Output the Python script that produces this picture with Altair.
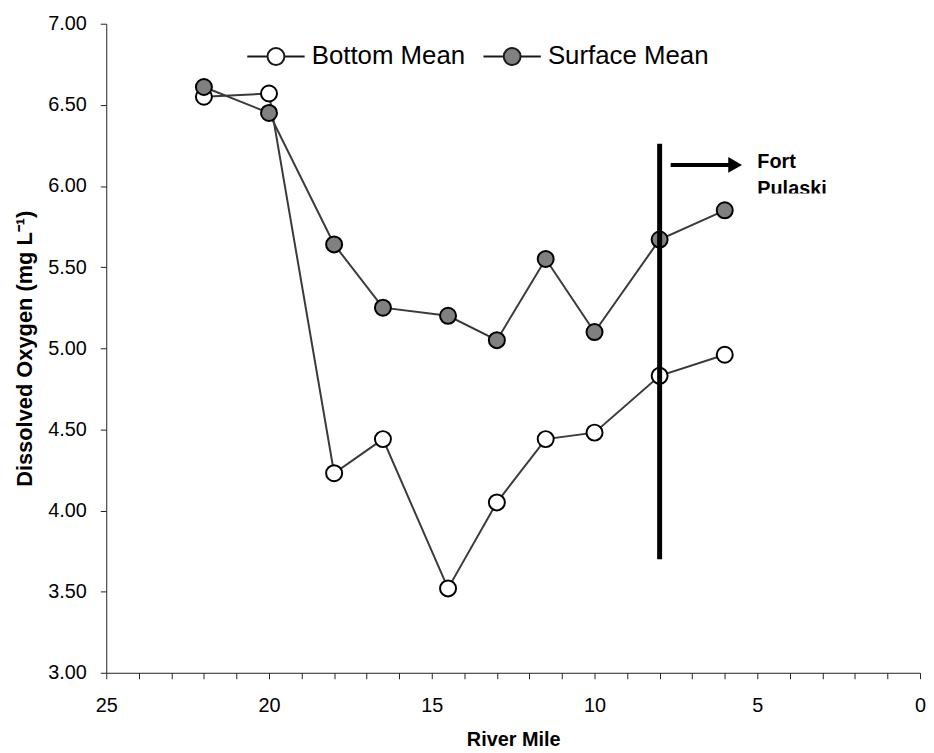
import altair as alt
import pandas as pd

# ---- data ----
river_mile = [22, 20, 18, 16.5, 14.5, 13, 11.5, 10, 8, 6]
bottom_mean = [6.55, 6.57, 4.23, 4.44, 3.52, 4.05, 4.44, 4.48, 4.83, 4.96]
surface_mean = [6.61, 6.45, 5.64, 5.25, 5.20, 5.05, 5.55, 5.10, 5.67, 5.85]
series_names = ["Bottom Mean", "Surface Mean"]
series_fills = ["#ffffff", "#808080"]

x_tick_values = list(range(0, 26))
y_tick_values = [3.0, 3.5, 4.0, 4.5, 5.0, 5.5, 6.0, 6.5, 7.0]

# Fort Pulaski marker line and annotation (data coordinates)
marker_mile = [8]
marker_low = [3.70]
marker_high = [6.26]
arrow_start = [7.66]
arrow_end = [5.68]
arrow_level = [6.13]
label_text = ["Fort", "Pulaski"]
label_mile = [5.0, 5.0]
label_level = [6.11, 5.942]
mask_mile = [5.15]
mask_mile2 = [2.3]
mask_top = [5.954]
mask_bottom = [5.90]

font = "Liberation Sans"

rows = []
for name, vals in zip(series_names, [bottom_mean, surface_mean]):
    for m, v in zip(river_mile, vals):
        rows.append({"mile": m, "value": v, "series": name})
df = pd.DataFrame(rows)

x_scale = alt.Scale(domain=[0, 25], reverse=True, nice=False, zero=False)
y_scale = alt.Scale(domain=[3, 7], nice=False, zero=False)

x_axis = alt.Axis(
    values=x_tick_values,
    labelExpr="datum.value % 5 == 0 ? datum.label : ''",
    labelOverlap=False,
    labelFlush=False,
    title="River Mile",
    grid=False,
    tickSize=6,
    labelPadding=17,
    titlePadding=14,
)
y_axis = alt.Axis(
    values=y_tick_values,
    format=".2f",
    labelOverlap=False,
    labelFlush=False,
    title="Dissolved Oxygen (mg L\u207b\u00b9)",
    titleFontSize=22,
    grid=False,
    tickSize=6,
    labelPadding=14,
    titlePadding=11,
)


def X(field):
    return alt.X(f"{field}:Q", scale=x_scale, axis=x_axis)


def Y(field):
    return alt.Y(f"{field}:Q", scale=y_scale, axis=y_axis)


base = alt.Chart(df)

lines = base.mark_line(color="#3a3a3a", strokeWidth=2).encode(
    x=X("mile"),
    y=Y("value"),
    detail="series:N",
)

legend_path = ("M-3.4,0L-1,0M1,0L3.4,0"
               "M-1,0A1,1 0 1,1 1,0A1,1 0 1,1 -1,0Z")

points = base.mark_point(
    shape="circle", filled=True, size=260, stroke="black",
    strokeWidth=2, opacity=1,
).encode(
    x=X("mile"),
    y=Y("value"),
    fill=alt.Fill(
        "series:N",
        scale=alt.Scale(domain=series_names, range=series_fills),
        legend=alt.Legend(
            title=None,
            orient="none",
            direction="horizontal",
            legendX=158,
            legendY=20,
            symbolType=legend_path,
            symbolSize=289,
            symbolStrokeColor="#1a1a1a",
            symbolStrokeWidth=2,
            symbolOpacity=1,
            labelFontSize=26,
            labelFont=font,
            labelColor="black",
            labelLimit=400,
            labelOffset=23,
            columnPadding=14,
            padding=0,
        ),
    ),
)

marker_df = pd.DataFrame({"mile": marker_mile, "low": marker_low, "high": marker_high})
marker = alt.Chart(marker_df).mark_rule(color="black", strokeWidth=5).encode(
    x=X("mile"),
    y=Y("low"),
    y2="high:Q",
)

arrow_df = pd.DataFrame({"start": arrow_start, "end": arrow_end, "level": arrow_level})
arrow_shaft = alt.Chart(arrow_df).mark_rule(color="black", strokeWidth=4).encode(
    x=X("start"),
    x2="end:Q",
    y=Y("level"),
)
arrow_head = alt.Chart(arrow_df).mark_point(
    shape="triangle-right", filled=True, size=256, color="black", opacity=1
).encode(
    x=X("end"),
    y=Y("level"),
)

label_df = pd.DataFrame({"text": label_text, "mile": label_mile, "level": label_level})
labels = alt.Chart(label_df).mark_text(
    align="left", baseline="alphabetic", font=font, fontSize=20,
    fontWeight="bold", color="black",
).encode(
    x=X("mile"),
    y=Y("level"),
    text="text:N",
)

mask_df = pd.DataFrame({"m1": mask_mile, "m2": mask_mile2, "top": mask_top, "bot": mask_bottom})
mask = alt.Chart(mask_df).mark_rect(color="white", opacity=1).encode(
    x=X("m1"),
    x2="m2:Q",
    y=Y("top"),
    y2="bot:Q",
)

chart = alt.layer(
    lines, points, labels, mask, arrow_shaft, arrow_head, marker
).properties(
    width=820,
    height=654,
    autosize="none",
    padding={"left": 99, "top": 13, "right": 6, "bottom": 80},
    background="white",
).configure_view(
    stroke=None
).configure_axis(
    labelFont=font,
    labelFontSize=20,
    labelColor="black",
    titleFont=font,
    titleFontSize=20,
    titleFontWeight="bold",
    titleColor="black",
    domainColor="#222222",
    domainWidth=1,
    tickColor="#222222",
    tickWidth=1,
)

chart.save("out.html", embed_options={"renderer": "svg", "actions": False})
